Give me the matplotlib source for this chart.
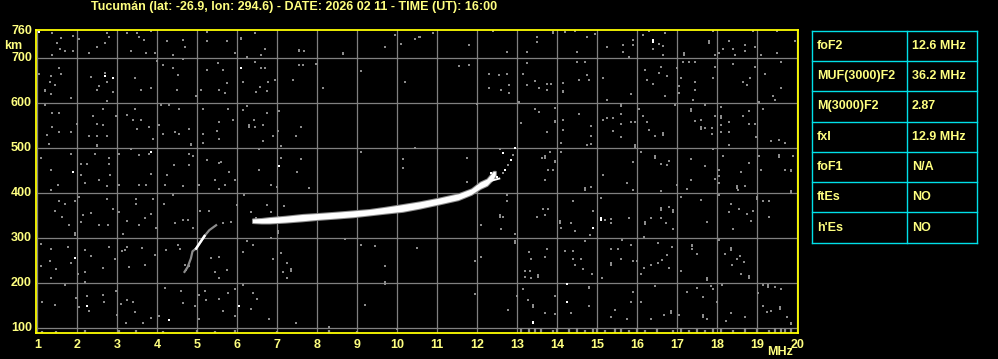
import numpy as np
import matplotlib
matplotlib.use("Agg")
import matplotlib.pyplot as plt

# Ionogram - Tucumán 2026-02-11 16:00 UT

TITLE = "Tucumán (lat: -26.9, lon: 294.6) - DATE: 2026 02 11 - TIME (UT): 16:00"

freq_ticks = list(range(1, 21))
km_ticks = [100, 200, 300, 400, 500, 600, 700, 760]

# F2 trace (O mode): frequency [MHz], lower / upper virtual height [km]
f2_freq = [6.38, 6.6, 6.8, 7.2, 7.63, 8.0, 8.47, 8.9, 9.3, 9.7, 10.13, 10.55,
           11.02, 11.52, 11.85, 12.07, 12.24, 12.4, 12.45]
f2_low = [334, 333, 333, 335, 338, 341, 344, 347, 351, 355, 359, 366,
          375, 385, 397, 410, 417, 432, 440]
f2_high = [342, 343, 345, 348, 352, 354, 357, 360, 363, 368, 374, 380,
           388, 398, 409, 424, 431, 448, 448]

# secondary thin branch near the F2 cusp
branch_freq = [12.0, 12.3, 12.55]
branch_km = [414, 426, 432]

# X mode echoes near fxI
xmode_freq = [12.56, 12.64, 12.93, 12.89, 12.83, 12.77, 12.7, 12.65, 12.35, 12.48]
xmode_km = [497, 489, 499, 485, 474, 463, 452, 445, 445, 435]
xmode_white = [False, True, True, False, True, False, True, False, True, True]

# lower (F1 ledge) trace
low_freq = [4.68, 4.76, 4.84, 4.88, 4.97, 5.09, 5.18, 5.3, 5.47]
low_km = [224, 235, 254, 270, 276, 292, 304, 317, 328]
low_white = [False, False, False, False, True, True, True, False, False]

# scattered gray noise (f [MHz], h [km])
noise_pts = [
    (1.38, 756), (1.59, 745), (1.48, 734), (1.57, 721), (1.38, 708), (1.68, 716),
    (1.88, 749), (1.88, 717), (2.05, 742), (2.28, 712), (2.48, 725), (2.69, 734),
    (2.73, 756), (2.78, 747), (3.23, 756), (3.34, 717), (3.48, 756), (3.54, 747),
    (3.67, 740), (3.72, 712), (3.84, 761), (3.94, 712), (4.23, 738), (4.38, 708),
    (4.63, 741), (4.69, 726), (5.24, 759), (5.23, 738), (5.73, 739), (5.94, 712),
    (6.08, 745), (6.08, 742), (6.23, 702), (6.43, 756), (6.58, 708), (6.68, 721),
    (7.55, 719), (7.55, 716), (7.67, 717), (8.63, 712), (8.63, 709), (9.68, 725),
    (9.94, 752), (10.09, 732), (10.44, 744), (10.53, 747),
    (1.05, 665), (1.34, 660), (1.32, 647), (1.19, 630), (1.19, 627), (1.44, 640),
    (1.59, 665), (1.53, 678), (1.34, 620), (1.84, 611), (2.34, 658), (2.55, 638),
    (2.49, 630), (2.69, 667), (2.74, 647), (2.88, 624), (2.74, 605), (3.44, 656),
    (3.59, 630), (3.84, 634), (3.99, 693), (4.14, 684), (4.38, 678), (4.51, 662),
    (4.49, 630), (4.63, 699), (4.96, 615), (5.09, 630), (5.24, 675), (5.51, 690),
    (5.63, 675), (5.73, 645), (5.53, 630), (5.68, 623), (6.13, 648), (6.45, 692),
    (6.59, 678), (6.69, 678), (6.77, 648), (6.57, 637), (6.73, 628), (6.47, 625),
    (6.94, 652), (7.38, 652), (7.55, 686), (7.65, 686), (7.97, 687), (8.13, 634),
    (9.09, 671), (10.2, 648),
    (1.2, 596), (1.38, 577), (1.53, 577), (1.36, 547), (1.23, 529), (1.53, 536),
    (1.84, 536), (1.28, 510), (1.98, 553), (2.38, 572), (2.63, 588), (2.48, 553),
    (2.63, 551), (2.3, 527), (2.49, 527), (2.73, 527), (2.49, 507), (2.49, 504),
    (2.97, 571), (3.23, 573), (3.38, 562), (3.59, 562), (3.44, 588), (3.8, 547),
    (3.49, 542), (3.88, 520), (4.09, 596), (4.28, 596), (4.55, 586), (4.05, 551),
    (4.13, 532), (4.45, 536), (4.53, 532), (4.78, 542), (4.84, 509), (4.84, 506),
    (5.13, 588), (5.13, 532), (5.13, 512), (5.53, 559), (5.48, 538), (5.53, 520),
    (5.77, 588), (5.88, 562), (6.13, 584), (6.23, 594), (6.42, 562), (6.28, 551),
    (6.28, 548), (6.44, 548), (6.63, 551), (6.74, 577), (6.88, 527), (7.02, 539),
    (7.03, 582), (7.09, 504), (6.63, 515), (7.47, 527), (7.58, 547),
    (1.08, 478), (1.34, 452), (1.84, 487), (2.09, 465), (2.23, 465), (2.09, 441),
    (2.45, 487), (2.8, 478), (2.78, 465), (2.82, 439), (3.03, 487), (3.34, 497),
    (3.55, 485), (3.8, 487), (3.84, 442), (4.23, 439), (4.42, 462), (4.78, 487),
    (4.88, 482), (4.78, 462), (5.24, 473), (5.53, 466), (5.58, 469), (5.78, 447),
    (6.53, 497), (6.53, 452), (7.09, 478), (7.48, 447), (7.59, 475), (9.09, 491),
    (10.13, 475), (10.13, 456), (10.44, 501),
    (10.56, 747), (10.89, 756), (12.39, 761), (11.78, 730), (12.73, 713),
    (13.24, 713), (13.48, 747), (13.49, 736), (13.89, 759), (13.89, 756),
    (14.18, 759), (14.43, 761), (14.74, 747), (14.93, 754), (14.49, 713),
    (15.24, 726), (15.63, 730), (15.63, 714), (15.88, 741), (15.88, 729),
    (15.78, 702), (16.15, 753), (16.28, 760), (16.39, 721), (16.53, 732),
    (16.64, 727), (16.64, 708), (16.68, 756), (17.17, 708), (17.17, 712),
    (17.78, 739), (17.78, 735), (17.89, 761), (17.95, 708), (18.03, 712),
    (18.14, 721), (18.29, 739), (18.39, 721), (18.43, 708), (18.7, 730),
    (18.7, 716), (18.89, 761), (18.95, 725), (19.1, 708), (19.48, 760),
    (19.5, 712), (19.93, 739),
    (11.53, 682), (11.78, 684), (12.28, 665), (12.53, 662), (12.74, 665),
    (12.28, 634), (12.58, 630), (12.78, 640), (12.78, 623), (13.14, 666),
    (13.24, 690), (13.23, 640), (13.43, 650), (13.53, 634), (13.75, 643),
    (13.85, 643), (13.75, 630), (14.14, 645), (14.14, 628), (14.14, 624),
    (14.48, 692), (14.68, 692), (14.54, 652), (14.74, 662), (14.79, 652),
    (15.14, 656), (15.24, 608), (15.83, 620), (16.18, 673), (16.23, 652),
    (16.39, 643), (16.54, 667), (16.58, 680), (16.73, 660), (16.68, 615),
    (16.99, 679), (17.08, 656), (17.03, 638), (17.03, 623), (17.14, 692),
    (17.28, 692), (17.43, 692), (17.43, 647), (17.43, 630), (17.39, 608),
    (17.89, 656), (17.93, 680), (18.39, 687), (18.64, 647), (18.81, 656),
    (18.74, 640), (18.93, 680), (19.18, 665), (19.39, 615), (19.43, 608),
    (19.59, 634), (19.58, 692), (19.03, 603),
    (11.98, 598), (13.03, 603), (13.43, 586), (13.53, 580), (13.93, 589),
    (13.93, 561), (13.93, 557), (14.14, 563), (14.14, 541), (14.54, 576),
    (14.83, 549), (14.83, 526), (14.83, 509), (14.73, 506), (14.08, 511),
    (13.73, 536), (13.08, 556), (15.14, 563), (15.24, 567), (15.39, 567),
    (15.39, 539), (15.59, 598), (15.59, 594), (15.59, 576), (15.58, 554),
    (15.58, 525), (15.83, 558), (15.93, 558), (15.93, 507), (15.93, 503),
    (16.03, 586), (16.14, 571), (16.25, 558), (16.28, 541), (16.43, 526),
    (16.64, 534), (16.64, 530), (16.93, 597), (17.33, 586), (17.33, 582),
    (17.43, 561), (17.58, 563), (17.58, 546), (17.58, 542), (17.68, 595),
    (17.68, 545), (17.87, 545), (17.93, 571), (17.87, 531), (18.08, 591),
    (18.08, 571), (18.08, 567), (18.08, 552), (18.08, 536), (18.28, 559),
    (18.28, 536), (18.28, 507), (18.64, 571), (18.79, 583), (18.79, 554),
    (18.93, 554), (19.14, 586), (19.35, 515), (19.55, 519), (19.68, 511),
    (18.97, 524),
    (11.73, 478), (13.62, 478), (13.7, 482), (13.7, 478), (13.93, 472),
    (13.93, 468), (13.81, 491), (13.76, 450), (13.89, 452), (14.08, 491),
    (15.14, 439), (15.89, 469), (16.08, 491), (16.43, 482), (16.43, 478),
    (16.58, 465), (16.73, 463), (16.79, 472), (17.33, 475), (17.68, 459),
    (17.89, 497), (18.03, 452), (18.03, 437), (18.14, 482), (18.58, 447),
    (18.79, 467), (19.03, 482), (19.08, 450), (19.53, 485), (19.53, 481),
    (19.68, 452), (19.83, 452), (19.83, 448), (19.89, 482),
    (1.51, 417), (1.34, 407), (2.2, 421), (2.53, 428), (2.73, 416), (3.03, 417),
    (3.53, 417), (3.72, 417), (4.18, 417), (4.63, 416), (5.03, 417), (5.44, 428),
    (5.53, 408), (5.7, 417), (5.94, 428), (6.84, 417), (6.98, 413), (7.8, 410),
    (1.53, 381), (1.7, 376), (1.95, 381), (2.05, 391), (1.44, 359), (1.63, 347),
    (1.78, 328), (1.95, 311), (1.95, 307), (2.09, 335), (2.34, 356), (2.13, 350),
    (2.53, 328), (2.76, 328), (2.74, 387), (2.9, 365), (3.05, 358), (3.15, 309),
    (3.23, 337), (3.47, 386), (3.47, 376), (3.55, 328), (3.68, 344), (3.84, 354),
    (3.9, 386), (3.97, 321), (4.16, 376), (4.38, 395), (4.45, 332), (4.63, 339),
    (4.76, 339), (4.88, 322), (5.07, 360), (5.28, 360), (5.63, 332), (5.84, 335),
    (5.98, 374), (6.17, 395), (6.34, 358), (6.47, 343), (6.73, 373), (6.84, 358),
    (7.01, 347), (7.17, 371), (7.01, 315), (7.01, 311), (6.84, 300),
    (1.09, 287), (1.34, 275), (1.32, 248), (1.09, 237), (1.47, 230), (1.34, 211),
    (1.76, 280), (1.84, 243), (2.01, 220), (2.18, 272), (2.19, 224), (2.2, 202),
    (2.34, 260), (2.63, 233), (2.8, 280), (2.93, 252), (3.12, 270), (3.18, 272),
    (3.23, 280), (3.28, 235), (3.62, 277), (3.68, 239), (3.93, 261), (4.22, 272),
    (4.51, 283), (4.57, 276), (4.68, 240), (4.78, 237), (4.72, 228), (5.34, 255),
    (5.53, 257), (5.44, 224), (5.53, 211), (5.74, 228), (6.13, 269), (6.23, 293),
    (6.38, 285), (6.88, 252), (7.09, 265), (7.23, 243), (7.34, 230), (7.34, 226),
    (7.23, 211), (7.13, 224), (8.7, 297), (9.09, 283), (9.45, 282), (9.68, 237),
    (9.68, 202), (9.68, 198), (10.49, 278),
    (1.13, 156), (1.43, 151), (1.68, 194), (1.97, 165), (2.03, 146), (2.28, 136),
    (2.23, 171), (2.63, 172), (2.67, 156), (2.97, 181), (2.98, 129), (3.09, 153),
    (3.23, 161), (3.38, 156), (3.43, 135), (3.22, 109), (3.63, 109), (3.84, 121),
    (4.03, 125), (4.2, 188), (4.58, 181), (4.63, 154), (4.93, 148), (5.03, 172),
    (5.03, 120), (5.18, 181), (5.22, 161), (5.55, 163), (5.63, 136), (5.76, 176),
    (5.94, 186), (5.94, 125), (6.13, 194), (6.34, 142), (6.49, 163), (6.4, 176),
    (6.78, 120), (7.47, 111), (8.28, 101), (9.2, 151), (9.98, 96),
    (11.75, 425), (13.68, 428), (14.68, 410), (14.68, 406), (14.83, 413),
    (15.75, 421), (15.89, 406), (16.58, 404), (16.98, 417), (17.33, 428),
    (17.25, 408), (17.95, 432), (18.05, 421), (18.5, 416), (18.5, 412),
    (18.68, 416), (19.83, 404), (19.83, 400),
    (12.75, 395), (12.73, 381), (12.56, 350), (12.56, 346), (12.64, 347),
    (12.58, 319), (12.08, 328), (12.95, 309), (13.5, 347), (13.64, 364),
    (13.77, 364), (13.7, 350), (14.06, 337), (14.06, 333), (14.08, 322),
    (14.33, 332), (14.39, 381), (14.44, 315), (14.68, 292), (14.89, 359),
    (15.08, 389), (15.18, 339), (15.33, 341), (15.33, 332), (14.81, 307),
    (15.78, 344), (16.18, 335), (16.18, 331), (16.33, 343), (16.58, 367),
    (16.58, 363), (16.58, 344), (16.78, 369), (16.88, 361), (16.88, 357),
    (16.88, 319), (16.71, 332), (16.17, 302), (17.1, 391), (17.6, 384),
    (17.73, 335), (18.03, 396), (18.28, 358), (18.33, 376), (18.39, 319),
    (18.52, 406), (18.53, 365), (18.74, 354), (18.88, 359), (18.83, 337),
    (18.98, 391), (18.98, 387), (19.14, 381), (19.28, 381), (19.28, 347),
    (19.83, 401),
    (11.93, 248), (12.08, 257), (12.93, 292), (12.93, 288), (13.28, 269),
    (13.35, 252), (13.18, 225), (13.32, 225), (13.52, 216), (13.52, 212),
    (13.35, 211), (13.18, 213), (13.73, 275), (13.68, 257), (14.18, 270),
    (14.39, 270), (14.39, 252), (14.58, 252), (14.43, 239), (14.63, 230),
    (14.87, 220), (15.12, 211), (15.33, 276), (15.33, 243), (15.33, 239),
    (15.52, 275), (15.6, 252), (15.62, 295), (15.85, 283), (15.9, 248),
    (16.0, 248), (16.08, 220), (16.17, 233), (16.33, 239), (16.52, 289),
    (16.52, 243), (16.62, 251), (16.73, 261), (16.78, 233), (16.87, 280),
    (17.08, 225), (17.37, 285), (17.37, 281), (17.37, 275), (17.5, 263),
    (17.73, 211), (17.73, 207), (18.04, 295), (18.33, 277), (18.33, 273),
    (18.18, 264), (18.36, 240), (18.49, 252), (18.56, 259), (18.58, 220),
    (18.78, 215), (18.78, 211), (18.67, 246),
    (11.93, 174), (12.77, 139), (13.0, 171), (13.14, 186), (13.27, 161),
    (13.39, 150), (13.39, 146), (13.68, 133), (13.93, 171), (13.95, 131),
    (14.35, 133), (14.78, 191), (14.78, 187), (14.78, 148), (15.43, 139),
    (15.33, 124), (15.73, 120), (15.85, 156), (15.89, 180), (16.08, 156),
    (16.43, 193), (16.35, 120), (16.67, 127), (16.83, 136), (16.83, 132),
    (17.03, 129), (17.25, 180), (17.48, 187), (17.64, 168), (17.64, 127),
    (17.64, 123), (17.73, 118), (17.83, 193), (17.89, 186), (17.98, 156),
    (18.12, 194), (18.22, 114), (18.34, 133), (18.68, 124), (19.02, 176),
    (19.14, 194), (19.27, 195), (19.27, 191), (19.43, 190), (19.58, 186),
    (19.14, 148), (19.23, 135), (19.35, 136), (19.56, 145), (19.56, 141),
    (19.74, 124), (19.83, 111), (19.83, 107),
]

# bright white noise points
white_pts = [
    (1.03, 759), (2.69, 661), (2.88, 656), (6.09, 678), (1.88, 447), (3.84, 491),
    (7.03, 461), (16.39, 741), (16.39, 737), (1.95, 255), (2.23, 148), (4.3, 116),
    (6.03, 148), (14.89, 322), (15.08, 339), (15.08, 343), (14.24, 198),
    (14.24, 156), (13.39, 113), (13.39, 109),
]

# receiver noise strip along the bottom (f [MHz], top of bar [km])
strip_freq = [1.13, 1.47, 2.2, 3.05, 3.47, 4.13, 5.0, 5.44, 5.94, 7.0, 8.3, 9.0,
              13.1, 13.3, 13.45, 13.6, 13.9, 14.0, 14.3, 14.5, 14.7, 14.9, 15.0,
              15.2, 15.45, 15.6, 15.8, 16.0, 16.2, 16.5, 16.9, 17.1, 17.3, 17.5,
              17.7, 17.9, 18.1, 18.4, 18.7, 19.0, 19.3, 19.45, 19.6, 19.7, 19.85]
strip_top = [93, 93, 95, 95, 95, 93, 95, 92, 95, 93, 95, 93,
             97, 100, 98, 96, 94, 99, 96, 98, 94, 97, 100,
             95, 98, 96, 94, 99, 95, 97, 94, 98, 95, 97,
             94, 98, 96, 94, 99, 97, 95, 100, 98, 96, 99]

table_rows = ["foF2", "MUF(3000)F2", "M(3000)F2", "fxI", "foF1", "ftEs", "h'Es"]
table_vals = ["12.6 MHz", "36.2 MHz", "2.87", "12.9 MHz", "N/A", "NO", "NO"]

YELLOW = "#ffff00"
TXT = "#ffff80"
GRID = "#808080"
NOISE = "#8c8c8c"
CYAN = "#00e0e8"
FONT = ["Liberation Sans Narrow", "Liberation Sans", "DejaVu Sans"]

plt.rcParams["font.family"] = FONT
plt.rcParams["font.weight"] = "bold"

W, H = 998, 359
fig = plt.figure(figsize=(W / 100, H / 100), dpi=100, facecolor="black")

# plot area in pixels
x0, x1, y0, y1 = 36, 798, 29.5, 333
ax = fig.add_axes([x0 / W, 1 - y1 / H, (x1 - x0) / W, (y1 - y0) / H])
ax.set_facecolor("black")
ax.set_xlim(0.9675, 20.0175)
ax.set_ylim(87.8, 764.2)

for f in freq_ticks:
    ax.axvline(f, color=GRID, lw=0.9, zorder=1)
for h in km_ticks[:-1]:
    ax.axhline(h, color=GRID, lw=0.9, zorder=1)

for sp in ax.spines.values():
    sp.set_color(YELLOW)
    sp.set_linewidth(1.3)
ax.set_xticks([])
ax.set_yticks([])

# noise
nf = [p[0] for p in noise_pts]
nh = [p[1] for p in noise_pts]
ax.plot(nf, nh, ls="none", marker="s", ms=1.5, mew=0, color=NOISE, zorder=2)
for f, top in zip(strip_freq, strip_top):
    ax.plot([f, f], [88, top], color=NOISE, lw=1.6, solid_capstyle="butt", zorder=2)
wf = [p[0] for p in white_pts]
wh = [p[1] for p in white_pts]
ax.plot(wf, wh, ls="none", marker="s", ms=1.7, mew=0, color="white", zorder=3)

# lower trace
ax.plot(low_freq, low_km, color=NOISE, lw=1.6, zorder=3)
lf = np.array(low_freq)
lk = np.array(low_km)
lw_ = np.array(low_white)
ax.plot(lf[lw_], lk[lw_], color="white", lw=1.8, zorder=4)

# F2 trace
ax.fill_between(f2_freq, f2_low, f2_high, color=NOISE, lw=1.5, zorder=3)
ax.fill_between(f2_freq, f2_low, f2_high, color="white", lw=0, zorder=4)
ax.plot(branch_freq, branch_km, color="white", lw=1.4, zorder=4)

# X mode
for f, h, white in zip(xmode_freq, xmode_km, xmode_white):
    ax.plot(f, h, marker="s", ms=1.8, mew=0, color="white" if white else NOISE, zorder=4)

# labels
for f in freq_ticks:
    fig.text(ax.transData.transform((f, 0))[0] / W, 1 - 344.5 / H, str(f),
             color=TXT, fontsize=9, ha="center", va="center")
for h in km_ticks:
    ypx = H - ax.transData.transform((1, h))[1]
    if h == 760:
        ypx = 30.5
    fig.text(32 / W, 1 - ypx / H, str(h), color=TXT, fontsize=9, ha="right", va="center")
fig.text(13.5 / W, 1 - 46 / H, "km", color=TXT, fontsize=9, ha="center", va="center")
fig.text(780 / W, 1 - 352 / H, "MHz", color=TXT, fontsize=9, ha="center", va="center")
fig.text(294 / W, 1 - 7 / H, TITLE, color=TXT, fontsize=9, ha="center", va="center")

# parameter table
tx0, tx1, ty0, ty1 = 812, 977, 30.7, 242.7
tax = fig.add_axes([tx0 / W, 1 - ty1 / H, (tx1 - tx0) / W, (ty1 - ty0) / H])
tax.set_xlim(0, tx1 - tx0)
tax.set_ylim(len(table_rows), 0)
tax.axis("off")
xdiv = 907 - tx0
for i in range(len(table_rows) + 1):
    tax.plot([0, tx1 - tx0], [i, i], color=CYAN, lw=1, clip_on=False)
for xx in (0, xdiv, tx1 - tx0):
    tax.plot([xx, xx], [0, len(table_rows)], color=CYAN, lw=1, clip_on=False)
for i, (name, val) in enumerate(zip(table_rows, table_vals)):
    tax.text(5, i + 0.5, name, color=TXT, fontsize=9, ha="left", va="center")
    tax.text(xdiv + 5, i + 0.5, val, color=TXT, fontsize=9, ha="left", va="center")

fig.savefig("out.png", dpi=100, facecolor="black")
